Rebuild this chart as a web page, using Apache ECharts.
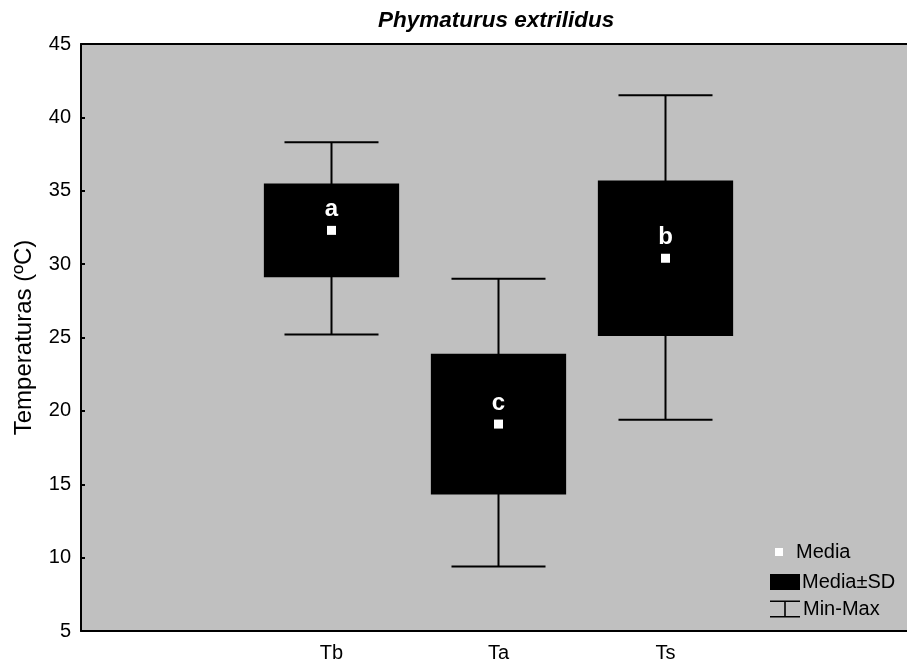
<!DOCTYPE html>
<html>
<head>
<meta charset="utf-8">
<script src="https://cdn.jsdelivr.net/npm/echarts@6/dist/echarts.min.js"></script>
<style>html,body{margin:0;padding:0;background:#fff;}#chart{width:907px;height:668px;}</style>
</head>
<body>
<div id="chart"></div>
<script>
// ---- data ----
const categories = ['Tb', 'Ta', 'Ts'];
const axisCategories = [' ', 'Tb', 'Ta', 'Ts', '  '];
const meanValues = [32.3, 19.1, 30.4];
const sdLow = [29.1, 14.3, 25.1];
const sdHigh = [35.5, 23.9, 35.7];
const minValues = [25.2, 9.4, 19.4];
const maxValues = [38.3, 29.0, 41.5];
const groupLetters = ['a', 'c', 'b'];
const yTicks = { min: 5, max: 45, interval: 5 };

const FONT = 'Liberation Sans, Arial, sans-serif';

const boxData = categories.map((c, i) => [c, sdLow[i], sdHigh[i]]);
const whiskerData = categories.map((c, i) => [c, minValues[i], maxValues[i]]);
const meanData = categories.map((c, i) => [c, meanValues[i]]);

function renderWhisker(params, api) {
  const x = api.value(0);
  const lo = api.coord([x, api.value(1)]);
  const hi = api.coord([x, api.value(2)]);
  const band = api.size([1, 0])[0];
  const cw = band * 0.563;
  const style = { stroke: '#000', lineWidth: 2 };
  return {
    type: 'group',
    children: [
      { type: 'line', shape: { x1: lo[0], y1: lo[1], x2: hi[0], y2: hi[1] }, style },
      { type: 'line', shape: { x1: hi[0] - cw / 2, y1: hi[1], x2: hi[0] + cw / 2, y2: hi[1] }, style },
      { type: 'line', shape: { x1: lo[0] - cw / 2, y1: lo[1], x2: lo[0] + cw / 2, y2: lo[1] }, style }
    ]
  };
}
function renderBox(params, api) {
  const x = api.value(0);
  const lo = api.coord([x, api.value(1)]);
  const hi = api.coord([x, api.value(2)]);
  const band = api.size([1, 0])[0];
  const w = band * 0.81;
  return {
    type: 'rect',
    shape: { x: hi[0] - w / 2, y: hi[1], width: w, height: lo[1] - hi[1] },
    style: { fill: '#000' }
  };
}

const chart = echarts.init(document.getElementById('chart'), null, { renderer: 'canvas' });
chart.setOption({
  animation: false,
  backgroundColor: '#fff',
  title: {
    text: 'Phymaturus extrilidus',
    left: 378, top: 9, padding: 0,
    textStyle: { fontFamily: FONT, fontSize: 22.5, fontWeight: 'bold', fontStyle: 'italic', color: '#000' }
  },
  grid: {
    left: 81, top: 44, width: 835, bottom: 37, show: true, backgroundColor: '#c0c0c0', borderWidth: 0,
    containLabel: false, outerBoundsMode: 'none'
  },
  legend: [
    {
      data: [{ name: 'Media', icon: 'rect' }],
      left: 775, top: 542, padding: 0, itemWidth: 8, itemHeight: 8,
      textStyle: { fontFamily: FONT, fontSize: 20, color: '#000', padding: [0, 0, 0, 8] },
      selectedMode: false
    },
    {
      data: [{ name: 'Media±SD', icon: 'rect' }],
      left: 770, top: 572, padding: 0, itemWidth: 30, itemHeight: 16,
      textStyle: { fontFamily: FONT, fontSize: 20, color: '#000', padding: [0, 0, 0, -3] },
      selectedMode: false
    },
    {
      data: [{ name: 'Min-Max', icon: 'path://M0,0h30v1.6h-30z M14.2,0h1.6v17h-1.6z M0,15.4h30v1.6h-30z' }],
      left: 770, top: 599, padding: 0, itemWidth: 30, itemHeight: 17,
      textStyle: { fontFamily: FONT, fontSize: 20, color: '#000', padding: [0, 0, 0, -2] },
      selectedMode: false
    }
  ],
  xAxis: [
    {
      type: 'category', data: axisCategories, position: 'bottom', boundaryGap: true,
      axisLine: { lineStyle: { color: '#000', width: 2 } },
      axisTick: { alignWithLabel: true, inside: true, length: 4, lineStyle: { color: '#000', width: 2 } },
      axisLabel: { fontFamily: FONT, fontSize: 20, color: '#000', margin: 12 },
      splitLine: { show: false }
    },
    {
      type: 'category', data: axisCategories, position: 'top', boundaryGap: true,
      axisLine: { lineStyle: { color: '#000', width: 2 } },
      axisTick: { alignWithLabel: true, inside: true, length: 4, lineStyle: { color: '#000', width: 2 } },
      axisLabel: { show: false },
      splitLine: { show: false }
    }
  ],
  yAxis: {
    type: 'value', min: yTicks.min, max: yTicks.max, interval: yTicks.interval,
    name: 'Temperaturas (ºC)', nameLocation: 'middle', nameGap: 45,
    nameTextStyle: { fontFamily: FONT, fontSize: 24, color: '#000' },
    axisLine: { show: true, lineStyle: { color: '#000', width: 2 } },
    axisTick: { show: true, inside: true, length: 4, lineStyle: { color: '#000', width: 2 } },
    axisLabel: { fontFamily: FONT, fontSize: 20, color: '#000', margin: 10 },
    splitLine: { show: false }
  },
  series: [
    {
      name: 'Min-Max', type: 'custom', renderItem: renderWhisker, data: whiskerData,
      encode: { x: 0, y: [1, 2] }, itemStyle: { color: '#000' }, z: 2
    },
    {
      name: 'Media±SD', type: 'custom', renderItem: renderBox, data: boxData,
      encode: { x: 0, y: [1, 2] }, itemStyle: { color: '#000' }, z: 3
    },
    {
      name: 'Media', type: 'scatter', data: meanData, symbol: 'rect', symbolSize: 9,
      itemStyle: { color: '#fff', opacity: 1 }, z: 4,
      label: {
        show: true, position: 'top', distance: 4,
        formatter: p => groupLetters[p.dataIndex],
        fontFamily: FONT, fontSize: 24, fontWeight: 'bold', color: '#fff'
      }
    }
  ]
});
</script>
</body>
</html>
